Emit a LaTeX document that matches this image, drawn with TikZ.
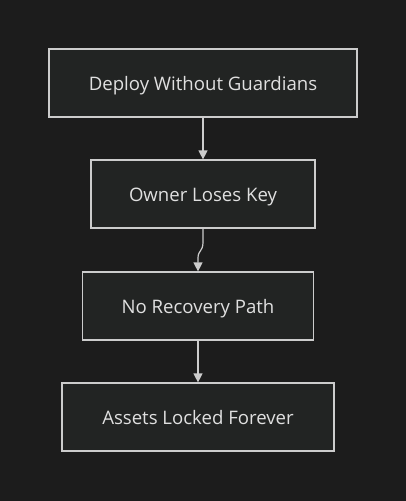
\documentclass[tikz,border=0pt]{standalone}
\usepackage{fontspec}
\setmainfont{Open Sans}
\usetikzlibrary{arrows.meta}
\definecolor{bg}{HTML}{1C1C1C}
\definecolor{boxfill}{HTML}{222423}
\definecolor{edge}{HTML}{CCCCCC}
\definecolor{txt}{HTML}{E0E0E0}
\begin{document}
\begin{tikzpicture}[x=1pt,y=-1pt,
  stepbox/.style={draw=edge,fill=boxfill,line width=1.2pt,minimum height=68pt,inner sep=0pt,text height=15pt,text depth=0pt,text=txt,font=\fontsize{18.6}{22}\selectfont},
  flow/.style={draw=edge,line width=1.2pt,-{Triangle[length=9pt,width=9pt]}}]
\fill[bg] (0,0) rectangle (406,501);
\useasboundingbox (0,0) rectangle (406,501);
\node[stepbox,minimum width=308pt] (a) at (203,83) {Deploy Without Guardians};
\node[stepbox,minimum width=224pt] (b) at (203,194) {Owner Loses Key};
\node[stepbox,minimum width=231pt] (c) at (198,306) {No Recovery Path};
\node[stepbox,minimum width=272pt] (d) at (198,417) {Assets Locked Forever};
\draw[flow] (a.south -| 203,0) -- (b.north -| 203,0);
\draw[flow] (b.south -| 203,0) -- (203,242) .. controls (203,252) and (198,250) .. (198,258) -- (c.north -| 198,0);
\draw[flow] (c.south -| 198,0) -- (d.north -| 198,0);
\end{tikzpicture}
\end{document}
